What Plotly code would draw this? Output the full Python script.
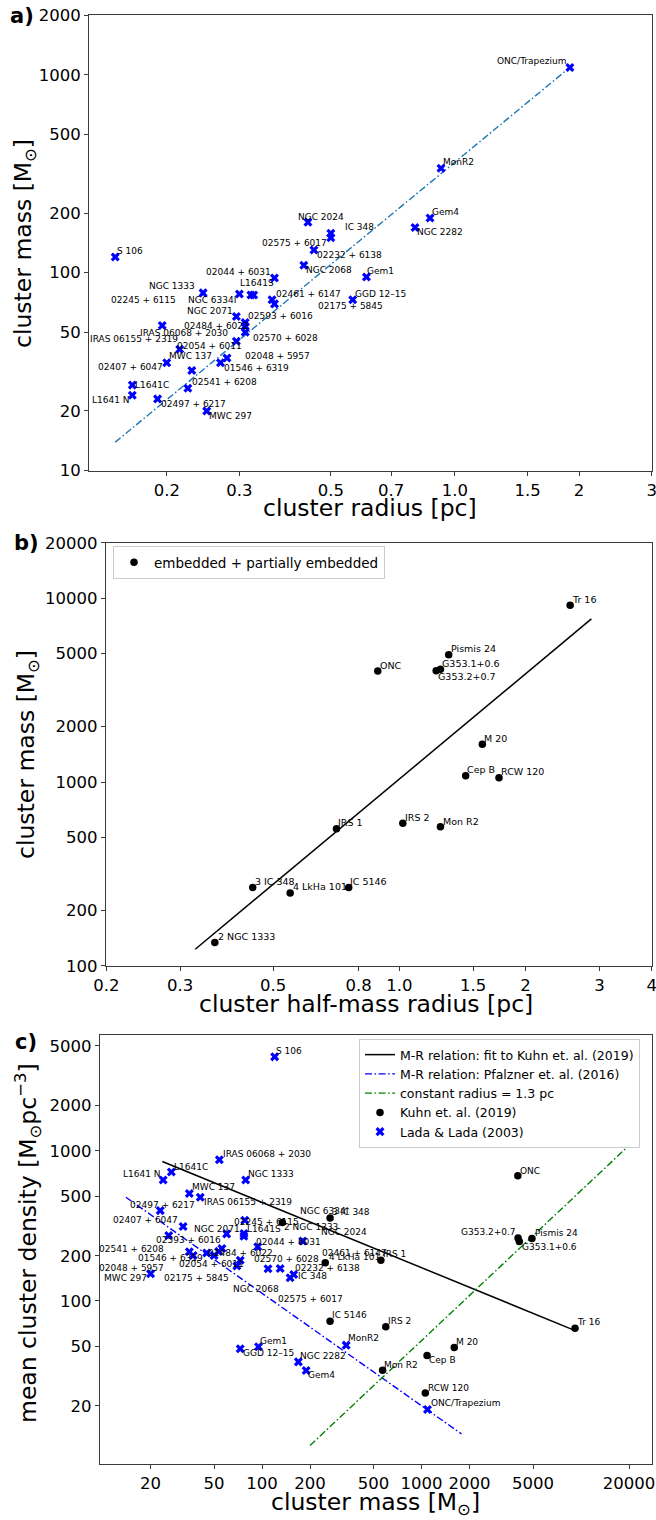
import numpy as np
import plotly.graph_objects as go

# ---------------- data ----------------
# Lada & Lada (2003) embedded clusters (panel a: radius vs mass, panel c: mass vs density)
lada_names = ["S 106", "NGC 1333", "02245 + 6115", "L1641S", "NGC 6334I", "02044 + 6031",
              "02461 + 6147", "02175 + 5845", "NGC 2071", "02593 + 6016", "02484 + 6022",
              "02570 + 6028", "02054 + 6011", "IRAS 06068 + 2030", "IRAS 06155 + 2319",
              "MWC 137", "02048 + 5957", "01546 + 6319", "02407 + 6047", "L1641C", "L1641 N",
              "02497 + 6217", "02541 + 6208", "MWC 297", "NGC 2024", "IC 348", "02575 + 6017",
              "02232 + 6138", "NGC 2068", "Gem1", "GGD 12–15", "NGC 2282", "Gem4", "MonR2",
              "ONC/Trapezium"]
lada_radius = [0.15, 0.245, 0.30, 0.32, 0.325, 0.365, 0.36, 0.365, 0.295, 0.31, 0.31,
               0.31, 0.295, 0.195, 0.215, 0.20, 0.28, 0.27, 0.23, 0.165, 0.165,
               0.19, 0.225, 0.25, 0.44, 0.50, 0.50, 0.455, 0.43, 0.61, 0.565, 0.80, 0.87,
               0.925, 1.9]
lada_mass = [120, 79, 78, 77, 77, 94, 73, 69.5, 60, 56, 53.5, 50, 45, 54, 41, 35, 37, 35,
             32, 27, 24, 23, 26, 20, 180, 158, 150, 130, 109, 95, 73, 169, 189, 337, 1090]
lada_density = [4230, 639, 345, 281, 270, 230, 187, 171, 280, 224, 214, 201, 209, 872, 491,
                520, 201, 213, 313, 723, 639, 400, 273, 152, 251, 150, 143, 164.5, 164,
                49.6, 48.1, 39.3, 34.4, 50.8, 18.9]

# Kuhn et al. (2019) clusters (panel b: half-mass radius vs mass, panel c: mass vs density)
kuhn_names = ["Tr 16", "Pismis 24", "G353.1+0.6", "G353.2+0.7", "ONC", "M 20", "Cep B",
              "RCW 120", "IRS 2", "Mon R2", "IRS 1", "IC 5146", "3 IC 348", "4 LkHa 101",
              "2 NGC 1333"]
kuhn_radius = [2.554, 1.311, 1.253, 1.224, 0.888, 1.577, 1.439, 1.728, 1.019, 1.253, 0.708,
               0.757, 0.447, 0.549, 0.363]
kuhn_mass = [9170, 4924, 4102, 4030, 4016, 1604, 1083, 1056, 597, 570, 556, 267, 267, 249, 134]
kuhn_density = [65.8, 261, 249, 263, 683, 48.9, 43.4, 24.4, 67.3, 34.6, 187, 73.4, 357, 180, 333]

# relations
pfalzner_a_radius = [0.15, 1.9]
pfalzner_a_mass = [13.9, 1090]
kuhnfit_b_radius = [0.326, 2.87]
kuhnfit_b_mass = [123, 7720]
kuhnfit_c_mass = [23.7, 9030]
kuhnfit_c_density = [849, 64]
pfalzner_c_mass = [14.0, 1783]
pfalzner_c_density = [491, 13.0]
constr_c_mass = [200, 20000]
constr_c_density = [10.9, 1087]

# ticks
ticks_a_x = [0.2, 0.3, 0.5, 0.7, 1.0, 1.5, 2, 3]
ticks_a_x_text = ["0.2", "0.3", "0.5", "0.7", "1.0", "1.5", "2", "3"]
ticks_a_y = [10, 20, 50, 100, 200, 500, 1000, 2000]
ticks_b_x = [0.2, 0.3, 0.5, 0.8, 1.0, 1.5, 2, 3, 4]
ticks_b_x_text = ["0.2", "0.3", "0.5", "0.8", "1.0", "1.5", "2", "3", "4"]
ticks_b_y = [100, 200, 500, 1000, 2000, 5000, 10000, 20000]
ticks_c_x = [20, 50, 100, 200, 500, 1000, 2000, 5000, 20000]
ticks_c_y = [20, 50, 100, 200, 500, 1000, 2000, 5000]

# ---------------- label placement (styling) ----------------
LBL_A = {
    "S 106": ("left", 0.5, 5.6), "NGC 1333": ("right", -7.3, 6.6),
    "02245 + 6115": ("right", -62.3, -5.7), "L1641S": ("left", -12.4, 12),
    "NGC 6334I": ("right", -16.6, -5), "02044 + 6031": ("right", -2, 5.6),
    "02461 + 6147": ("left", 2.6, 5.7), "02175 + 5845": ("left", 42.4, -2),
    "NGC 2071": ("right", -2, 5.7), "02593 + 6016": ("left", 1.7, 6.7),
    "02484 + 6022": ("right", 5, 0), "02570 + 6028": ("left", 6.3, -5.7),
    "02054 + 6011": ("right", 6.3, -4.3), "IRAS 06068 + 2030": ("left", -23.4, -7.3),
    "IRAS 06155 + 2319": ("right", -0.3, 10.7), "MWC 137": ("left", 1.6, 6.6),
    "02048 + 5957": ("left", 16.6, 2), "01546 + 6319": ("left", 2.3, -4.7),
    "02407 + 6047": ("right", -27.4, 3.3), "L1641C": ("left", 1.6, 0),
    "L1641 N": ("right", -1, -4.7), "02497 + 6217": ("left", 2, -4.7),
    "02541 + 6208": ("left", 2.7, 6.3), "MWC 297": ("left", 1, -4.7),
    "NGC 2024": ("left", -11.2, 5.6), "IC 348": ("left", 13, 6.6),
    "02575 + 6017": ("right", -3.3, -5), "02232 + 6138": ("left", 1.9, -5),
    "NGC 2068": ("left", 1.3, -4.3), "Gem1": ("left", 0, 6),
    "GGD 12–15": ("left", 1.3, 6), "NGC 2282": ("left", 0.8, -4.4),
    "Gem4": ("left", 1.2, 6), "MonR2": ("left", 1, 6),
    "ONC/Trapezium": ("right", -2.5, 6),
}
LBL_C = {
    "S 106": ("left", 0.6, 6), "IRAS 06068 + 2030": ("left", 2.6, 5.7),
    "L1641C": ("left", 1.4, 5.4), "L1641 N": ("right", -1, 6),
    "NGC 1333": ("left", 1.3, 6), "MWC 137": ("left", 1.7, 6.3),
    "IRAS 06155 + 2319": ("left", 3, -4.4), "02497 + 6217": ("left", -31.7, 5.9),
    "02407 + 6047": ("right", -4.5, 6.4), "02245 + 6115": ("left", -11.9, -2.1),
    "NGC 6334I": ("left", 55.2, 25.1), "L1641S": ("left", 1.9, 5.1),
    "NGC 2071": ("left", -33.9, 4.7), "02593 + 6016": ("right", 0.5, 8.3),
    "02044 + 6031": ("left", -3.2, 4.4), "NGC 2024": ("left", 17.4, 9.3),
    "02541 + 6208": ("right", -3.3, -13.4), "01546 + 6319": ("right", 15, -6.5),
    "02048 + 5957": ("right", -27.7, -12.1), "MWC 297": ("right", -2.1, -4.4),
    "02054 + 6011": ("left", -28.3, -10.7), "02175 + 5845": ("right", -6.8, -11.8),
    "NGC 2068": ("left", -36.5, -20), "02575 + 6017": ("left", -12.8, -21.6),
    "02484 + 6022": ("left", -11.9, -1.9), "02570 + 6028": ("left", 38.6, -3.7),
    "02232 + 6138": ("left", 14, 0.9), "IC 348": ("left", 2.8, -1.2),
    "02461 + 6147": ("left", 81, 7), "Gem1": ("left", 0.6, 5.9),
    "GGD 12–15": ("left", 2.1, -4.6), "NGC 2282": ("left", 0.9, 6.1),
    "Gem4": ("left", 0.7, -4.8), "MonR2": ("left", 1.3, 6.8),
    "ONC/Trapezium": ("left", 2.5, 6.9),
}
LBL_B = {
    "Tr 16": ("left", 0.7, 6), "Pismis 24": ("left", 1, 6), "G353.1+0.6": ("left", 1, 6),
    "G353.2+0.7": ("left", 1, -5.3), "ONC": ("left", 1, 6), "M 20": ("left", 0.7, 6),
    "Cep B": ("left", 0.7, 5.7), "RCW 120": ("left", 0.7, 6), "IRS 2": ("left", 1, 6),
    "Mon R2": ("left", 1.3, 5.7), "IRS 1": ("left", 1, 6), "IC 5146": ("left", 0.7, 6),
    "3 IC 348": ("left", 1, 6), "4 LkHa 101": ("left", 1.4, 6), "2 NGC 1333": ("left", 1.7, 6),
}
LBL_CK = {
    "Tr 16": ("left", 1, 6), "Pismis 24": ("left", 1.7, 5), "G353.2+0.7": ("right", -0.7, 5.7),
    "G353.1+0.6": ("left", 2, -5), "ONC": ("left", 0.7, 5), "M 20": ("left", 1.2, 6),
    "Cep B": ("left", 1.3, -5), "RCW 120": ("left", 2, 5.3), "IRS 2": ("left", 0.8, 5.6),
    "Mon R2": ("left", 0.8, 5), "IC 5146": ("left", 1.1, 6), "IRS 1": ("left", 1, 5.7),
    "3 IC 348": ("left", 0.7, 5.7), "4 LkHa 101": ("left", 2.7, 5.4),
    "2 NGC 1333": ("left", 1, -4.4),
}

W, H = 656, 1520
FONT = "DejaVu Sans"
BLUE = "#0000ff"
AXC = "#3a3a3a"


def px(v):
    return v / W


def py(v):
    return 1 - v / H


fig = go.Figure()

marker_x = dict(symbol="x", size=8, color=BLUE, line=dict(width=0))
marker_o = dict(symbol="circle", size=7.5, color="black", line=dict(width=0))
dashdot = "7px,2.5px,1.6px,2.5px"

# ----- panel a -----
fig.add_trace(go.Scatter(x=pfalzner_a_radius, y=pfalzner_a_mass, mode="lines",
                         line=dict(color="#1f77b4", width=1.4, dash=dashdot),
                         showlegend=False, xaxis="x", yaxis="y"))
fig.add_trace(go.Scatter(x=lada_radius, y=lada_mass, mode="markers", marker=marker_x,
                         showlegend=False, xaxis="x", yaxis="y"))

# ----- panel b -----
fig.add_trace(go.Scatter(x=kuhnfit_b_radius, y=kuhnfit_b_mass, mode="lines",
                         line=dict(color="black", width=1.5), showlegend=False,
                         xaxis="x2", yaxis="y2"))
fig.add_trace(go.Scatter(x=kuhn_radius, y=kuhn_mass, mode="markers", marker=marker_o,
                         name="embedded + partially embedded", legend="legend",
                         xaxis="x2", yaxis="y2"))

# ----- panel c -----
fig.add_trace(go.Scatter(x=kuhnfit_c_mass, y=kuhnfit_c_density, mode="lines",
                         line=dict(color="black", width=1.5),
                         name="M-R relation: fit to Kuhn et. al. (2019)", legend="legend2",
                         xaxis="x3", yaxis="y3"))
fig.add_trace(go.Scatter(x=pfalzner_c_mass, y=pfalzner_c_density, mode="lines",
                         line=dict(color=BLUE, width=1.4, dash=dashdot),
                         name="M-R relation: Pfalzner et. al. (2016)", legend="legend2",
                         xaxis="x3", yaxis="y3"))
fig.add_trace(go.Scatter(x=constr_c_mass, y=constr_c_density, mode="lines",
                         line=dict(color="green", width=1.4, dash=dashdot),
                         name="constant radius = 1.3 pc", legend="legend2",
                         xaxis="x3", yaxis="y3"))
fig.add_trace(go.Scatter(x=kuhn_mass, y=kuhn_density, mode="markers", marker=marker_o,
                         name="Kuhn et. al. (2019)", legend="legend2",
                         xaxis="x3", yaxis="y3"))
fig.add_trace(go.Scatter(x=lada_mass, y=lada_density, mode="markers", marker=marker_x,
                         name="Lada & Lada (2003)", legend="legend2",
                         xaxis="x3", yaxis="y3"))

annotations = []


def add_labels(names, xs, ys, table, xref, yref, size):
    for n, xv, yv in zip(names, xs, ys):
        anchor, dx, dy = table[n]
        annotations.append(dict(x=float(np.log10(xv)), y=float(np.log10(yv)), xref=xref,
                                yref=yref, text=n, showarrow=False, xanchor=anchor,
                                yanchor="middle", xshift=dx, yshift=dy, borderpad=0,
                                font=dict(family=FONT, size=size, color="black")))


add_labels(lada_names, lada_radius, lada_mass, LBL_A, "x", "y", 9)
add_labels(kuhn_names, kuhn_radius, kuhn_mass, LBL_B, "x2", "y2", 9.5)
add_labels(lada_names, lada_mass, lada_density, LBL_C, "x3", "y3", 9)
add_labels(kuhn_names, kuhn_mass, kuhn_density, LBL_CK, "x3", "y3", 9)


def title_ann(text, x, y, angle=0, size=23.5):
    annotations.append(dict(x=px(x), y=py(y), xref="paper", yref="paper", text=text,
                            showarrow=False, xanchor="center", yanchor="middle",
                            textangle=angle, font=dict(family=FONT, size=size, color="black")))


title_ann("cluster mass [M<sub>⊙</sub>]", 25, 244, -90)
title_ann("cluster radius [pc]", 370, 508)
title_ann("cluster mass [M<sub>⊙</sub>]", 27, 755, -90)
title_ann("cluster half-mass radius [pc]", 366, 1004)
title_ann("mean cluster density [M<sub>⊙</sub>pc<sup>−3</sup>]", 28, 1243, -90)
title_ann("cluster mass [M<sub>⊙</sub>]", 376, 1503)
title_ann("<b>a)</b>", 22, 16, 0, 21)
title_ann("<b>b)</b>", 26, 543, 0, 21)
title_ann("<b>c)</b>", 26, 1042, 0, 21)


def axis(domain, rng, tickvals, ticktext=None):
    d = dict(type="log", domain=domain, range=rng, showline=True, linecolor=AXC,
             linewidth=1.4, mirror=True, ticks="outside", ticklen=4, tickwidth=1.2,
             tickcolor=AXC, showgrid=False, zeroline=False, tickmode="array",
             automargin=False, ticklabeloverflow="allow",
             tickvals=tickvals, tickfont=dict(family=FONT, size=16.5, color="black"))
    if ticktext is not None:
        d["ticktext"] = ticktext
    else:
        d["ticktext"] = [str(v) for v in tickvals]
    return d


fig.update_layout(
    width=W, height=H, margin=dict(l=0, r=0, t=0, b=0, pad=0, autoexpand=False),
    paper_bgcolor="white", plot_bgcolor="white",
    font=dict(family=FONT, color="black"),
    xaxis=dict(axis([px(89.2), px(652.3)], [np.log10(0.1297), np.log10(3.01)], ticks_a_x,
                    ticks_a_x_text), anchor="y"),
    yaxis=dict(axis([py(470.7), py(15)], [np.log10(9.97), np.log10(2006)], ticks_a_y),
               anchor="x"),
    xaxis2=dict(axis([px(106), px(652.3)], [np.log10(0.1997), np.log10(4.01)], ticks_b_x,
                     ticks_b_x_text), anchor="y2"),
    yaxis2=dict(axis([py(966), py(542.7)], [np.log10(99.7), np.log10(20060)], ticks_b_y),
                anchor="x2"),
    xaxis3=dict(axis([px(100), px(652.3)], [0.984, 4.447], ticks_c_x), anchor="y3"),
    yaxis3=dict(axis([py(1464), py(1035)], [0.914, 3.772], ticks_c_y), anchor="x3"),
    legend=dict(x=px(113), y=py(546), xanchor="left", yanchor="top", bgcolor="white",
                bordercolor="#cccccc", borderwidth=1,
                font=dict(family=FONT, size=13.5, color="black")),
    legend2=dict(x=px(359), y=py(1039), xanchor="left", yanchor="top", bgcolor="white",
                 bordercolor="#cccccc", borderwidth=1, tracegroupgap=0,
                 font=dict(family=FONT, size=12.5, color="black")),
    annotations=annotations,
)

fig.write_html("out.html")
